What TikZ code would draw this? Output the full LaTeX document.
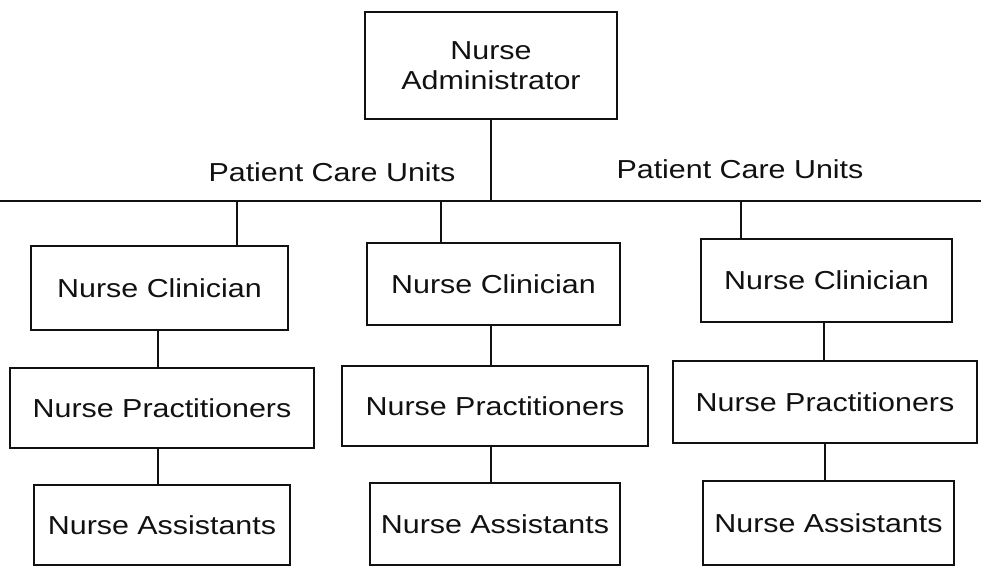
\documentclass[tikz,border=0pt]{standalone}
\usepackage{fontspec}
\setmainfont{Liberation Sans}[FakeStretch=1.17]
\usepackage{tikz}
\usetikzlibrary{positioning,calc}
\definecolor{ink}{HTML}{111111}
\newcommand{\chartfont}{\fontsize{13pt}{15pt}\selectfont}

\begin{document}
\begin{tikzpicture}[
    x=0.5pt, y=-0.5pt,
    box/.style={draw=ink, line width=0.9pt, inner sep=0pt, align=center,
                font=\chartfont, text=ink},
    unit/.style={font=\chartfont, text=ink, inner sep=0pt},
    link/.style={draw=ink, line width=1pt}
  ]
    \useasboundingbox (0,0) rectangle (981,566);

    \node[box, minimum width=126pt, minimum height=53.5pt] (admin) at (491,65.5) {Nurse\\Administrator};

    \node[unit] (unitsL) at (332,172) {Patient Care Units};
    \node[unit] (unitsR) at (740,169) {Patient Care Units};

    \coordinate (busL) at (0,201);
    \coordinate (busR) at (981,201);
    \coordinate (dropL) at (237,201);
    \coordinate (dropM) at (441,201);
    \coordinate (dropR) at (741,201);

    \node[box, minimum width=128.5pt, minimum height=42pt] (clinL) at (159.5,288) {Nurse Clinician};
    \node[box, minimum width=126.5pt, minimum height=41pt] (clinM) at (493.5,284) {Nurse Clinician};
    \node[box, minimum width=125.5pt, minimum height=41.5pt] (clinR) at (826.5,280.5) {Nurse Clinician};

    \node[box, minimum width=152pt, minimum height=40pt] (pracL) at (162,408) {Nurse Practitioners};
    \node[box, minimum width=153pt, minimum height=40pt] (pracM) at (495,406) {Nurse Practitioners};
    \node[box, minimum width=152pt, minimum height=41pt] (pracR) at (825,402) {Nurse Practitioners};

    \node[box, minimum width=128pt, minimum height=40pt] (asstL) at (162,525) {Nurse Assistants};
    \node[box, minimum width=125pt, minimum height=41pt] (asstM) at (495,524) {Nurse Assistants};
    \node[box, minimum width=125.5pt, minimum height=42pt] (asstR) at (828.5,523) {Nurse Assistants};

    \draw[link] (busL) -- (busR);
    \draw[link] (admin.south) -- (admin.south |- busL);
    \draw[link] (dropL) -- (dropL |- clinL.north);
    \draw[link] (dropM) -- (dropM |- clinM.north);
    \draw[link] (dropR) -- (dropR |- clinR.north);

    \draw[link] ([xshift=-0.75pt]clinL.south) -- ([xshift=-0.75pt]clinL.south |- pracL.north);
    \draw[link] ([xshift=-1.25pt]clinM.south) -- ([xshift=-1.25pt]clinM.south |- pracM.north);
    \draw[link] ([xshift=-1.25pt]clinR.south) -- ([xshift=-1.25pt]clinR.south |- pracR.north);

    \draw[link] ([xshift=-2pt]pracL.south) -- ([xshift=-2pt]pracL.south |- asstL.north);
    \draw[link] ([xshift=-2pt]pracM.south) -- ([xshift=-2pt]pracM.south |- asstM.north);
    \draw[link] (pracR.south) -- (pracR.south |- asstR.north);
\end{tikzpicture}
\end{document}
